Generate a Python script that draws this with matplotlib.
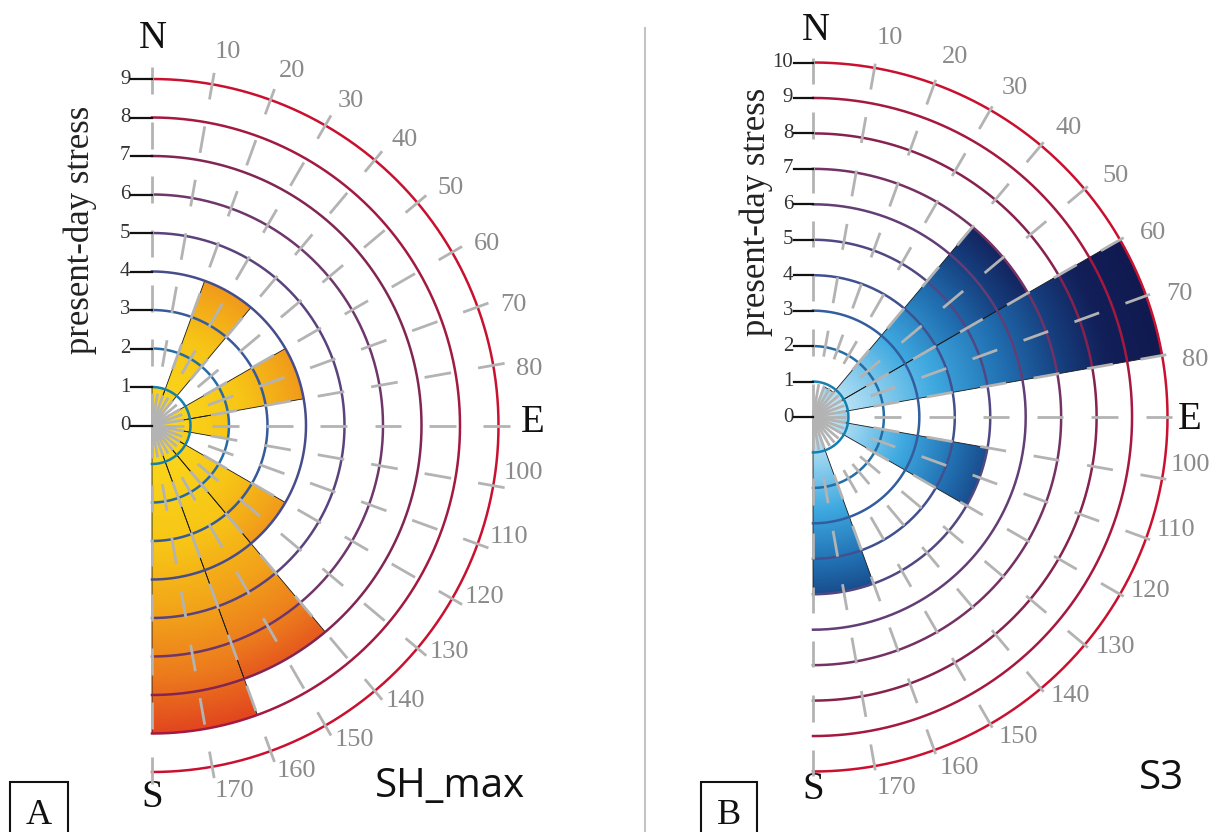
import numpy as np
import matplotlib
matplotlib.use("Agg")
import matplotlib.pyplot as plt
from matplotlib.patches import Wedge
from matplotlib.colors import LinearSegmentedColormap
from matplotlib.lines import Line2D

# azimuth bins in degrees, clockwise from N, 20 deg wide
bin_edges = [0, 20, 40, 60, 80, 100, 120, 140, 160, 180]
sh_max_counts = [1, 4, 0, 4, 2, 1, 4, 7, 8]
s3_counts = [0, 0.9, 7, 10, 1, 5, 0, 0, 5]

tick_degrees = list(range(0, 181, 10))
tick_labels = ["N", "10", "20", "30", "40", "50", "60", "70", "80", "E",
               "100", "110", "120", "130", "140", "150", "160", "170", "S"]

W, H = 1216, 832
SERIF = "Liberation Serif"

ring_cmap = LinearSegmentedColormap.from_list(
    "rings", ["#1580b0", "#2f5fa0", "#4a4a88", "#6a3a70", "#8a1e4a", "#c9102f"])
orange_cmap = LinearSegmentedColormap.from_list(
    "shmax", [(0, "#fbdc1d"), (0.4, "#f7c516"), (0.62, "#f2a21a"),
              (0.82, "#ec7a1d"), (1, "#e2461f")])
blue_cmap = LinearSegmentedColormap.from_list(
    "s3", [(0, "#e2f3fb"), (0.18, "#8fd0ef"), (0.35, "#3fa9e0"), (0.55, "#2170b2"),
           (0.72, "#163d7c"), (0.85, "#121f58"), (1, "#101a50")])

fig = plt.figure(figsize=(W / 100, H / 100), dpi=100)


def rose(px_left, px_right, cx, cy, unit, counts, n_rings, cmap,
         dash_top, dash_period, dash_len, nes_pos, ylab_pos):
    ax = fig.add_axes([px_left / W, 0, (px_right - px_left) / W, 1])
    ax.axis("off")
    top = max(counts)

    # gradient filled sectors
    n = 500
    X, Y = np.meshgrid(np.linspace(0, top + 0.2, n // 2),
                       np.linspace(-top - 0.2, top + 0.2, n))
    R = np.hypot(X, Y)
    for a, b, c in zip(bin_edges[:-1], bin_edges[1:], counts):
        if c <= 0:
            continue
        w = Wedge((0, 0), c, 90 - b, 90 - a, fc="none", ec="#1a1a1a", lw=0.6, zorder=3)
        ax.add_patch(w)
        im = ax.imshow(R / ((c + top) / 2), cmap=cmap, vmin=0, vmax=1, origin="lower",
                       extent=(0, top + 0.2, -top - 0.2, top + 0.2), aspect="auto",
                       interpolation="bilinear", zorder=2)
        im.set_clip_path(w)

    # rings
    th = np.radians(np.linspace(0, 180, 361))
    for k in range(1, n_rings + 1):
        ax.plot(k * np.sin(th), k * np.cos(th), color=ring_cmap((k - 1) / (n_rings - 1)),
                lw=1.8, zorder=4)

    # dashed azimuth lines every 10 deg
    centres = np.arange(dash_top, 0, -dash_period)
    for d in tick_degrees:
        s, c = np.sin(np.radians(d)), np.cos(np.radians(d))
        for m in centres:
            r0 = m - dash_len / 2 if m > dash_period else 0
            r1 = m + dash_len / 2
            ax.plot([r0 * s, r1 * s], [r0 * c, r1 * c], color="#b3b3b3", lw=2,
                    zorder=5, solid_capstyle="butt")

    # stress scale on the left
    for k in range(n_rings + 1):
        ax.plot([-0.54, 0], [k, k], color="#111111", lw=1.6, zorder=5)
        ax.text(-0.56, k, str(k), ha="right", va="center", family=SERIF,
                fontsize=15, color="#333333")

    # azimuth labels
    for d, lab in zip(tick_degrees, tick_labels):
        if lab in ("N", "E", "S"):
            continue
        if d < 90:
            ang, rr = d + 1.5, n_rings + 0.9
        else:
            ang, rr = d - 2.7, n_rings + 0.72
        ax.text(rr * np.sin(np.radians(ang)), rr * np.cos(np.radians(ang)), lab,
                ha="center", va="center", family=SERIF, fontsize=19, color="#8a8a8a")
    for lab, (x, y) in zip(["N", "E", "S"], nes_pos):
        ax.text(x, y, lab, ha="center", va="center", family=SERIF, fontsize=28,
                color="#111111")

    ax.text(ylab_pos[0], ylab_pos[1], "present-day stress", rotation=90, ha="center",
            va="center", family=SERIF, fontsize=25, color="#222222")

    ax.set_xlim((px_left - cx) / unit, (px_right - cx) / unit)
    ax.set_ylim((cy - H) / unit, cy / unit)
    return ax


rose(0, 645, 152, 425.5, 38.5, sh_max_counts, 9, orange_cmap,
     8.95, 1.41, 0.7, [(0.03, 10.06), (9.9, 0.09), (0, -9.65)], (-1.86, 5.08))
rose(645, 1216, 813, 417, 35.45, s3_counts, 10, blue_cmap,
     9.75, 1.53, 0.74, [(0.08, 10.9), (10.63, -0.08), (0, -10.52)], (-1.6, 5.78))

# separator
fig.add_artist(Line2D([645 / W, 645 / W], [0, 1 - 28 / H], color="#c4c4c4", lw=1.5))

fig.text(450 / W, 1 - 787 / H, "SH_max", ha="center", va="center",
         family="Open Sans", fontsize=29, color="#111111")
fig.text(1161 / W, 1 - 779 / H, "S3", ha="center", va="center",
         family="Open Sans", fontsize=29, color="#111111")

for lab, x in [("A", 39), ("B", 729)]:
    fig.text(x / W, 1 - 815 / H, lab, ha="center", va="center", family=SERIF,
             fontsize=26, color="#111111",
             bbox=dict(boxstyle="square,pad=0.45", fc="white", ec="#111111", lw=1.5))

fig.savefig("out.png", dpi=100)
